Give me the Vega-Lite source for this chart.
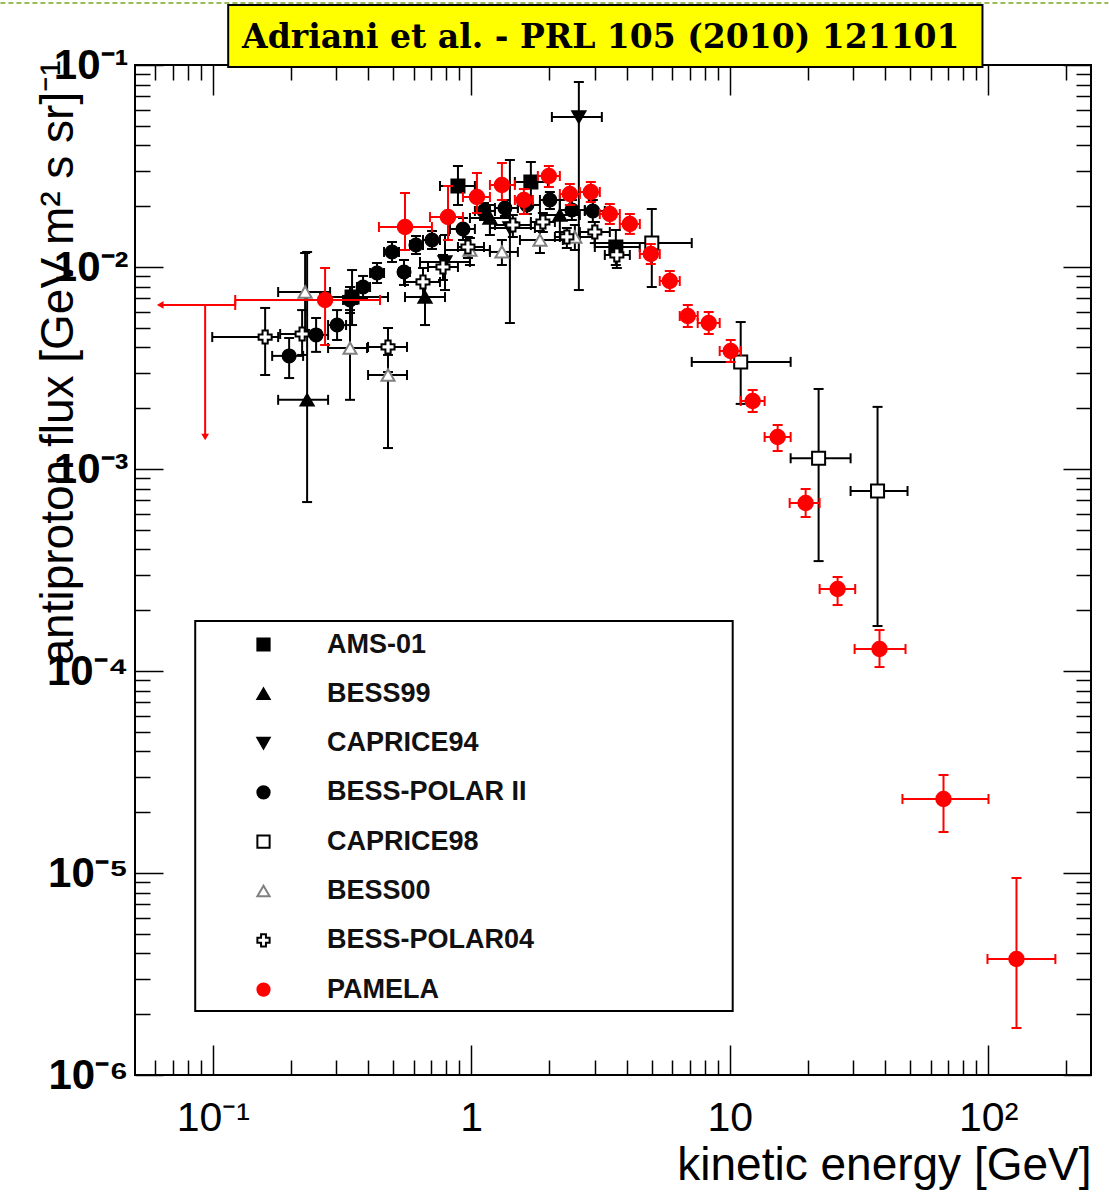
{
  "$schema": "https://vega.github.io/schema/vega-lite/v6.json",
  "width": 956,
  "height": 1010,
  "autosize": {"type": "none"},
  "padding": {"left": 135, "top": 65, "right": 18, "bottom": 117},
  "background": "white",
  "datasets": {
    "pts": [
      {"exp":"AMS-01","e":0.3458,"elo":0.2602,"ehi":0.4764,"f":0.0071,"flo":0.00516,"fhi":0.00966},
      {"exp":"AMS-01","e":0.8883,"elo":0.7568,"ehi":1.033,"f":0.02518,"flo":0.02027,"fhi":0.03162},
      {"exp":"AMS-01","e":1.701,"elo":1.475,"ehi":1.98,"f":0.02635,"flo":0.02027,"fhi":0.0331},
      {"exp":"AMS-01","e":3.626,"elo":3.007,"ehi":4.488,"f":0.01256,"flo":0.01023,"fhi":0.01525},
      {"exp":"BESS99","e":0.2317,"elo":0.179,"ehi":0.2793,"f":0.0022,"flo":0.000686,"fhi":0.01187},
      {"exp":"BESS99","e":0.6622,"elo":0.5543,"ehi":0.7913,"f":0.0071,"flo":0.00516,"fhi":0.00833},
      {"exp":"BESS99","e":1.181,"elo":0.9885,"ehi":1.411,"f":0.01748,"flo":0.0144,"fhi":0.02027},
      {"exp":"BESS99","e":2.202,"elo":1.844,"ehi":2.631,"f":0.01808,"flo":0.0149,"fhi":0.02146},
      {"exp":"CAPRICE94","e":2.608,"elo":2.051,"ehi":3.201,"f":0.05529,"flo":0.00769,"fhi":0.0824},
      {"exp":"CAPRICE94","e":1.411,"elo":1.181,"ehi":1.763,"f":0.0156,"flo":0.00528,"fhi":0.03386},
      {"exp":"CAPRICE94","e":0.7913,"elo":0.6333,"ehi":0.9885,"f":0.01059,"flo":0.00769,"fhi":0.0144},
      {"exp":"BESS-POLAR II","e":0.1974,"elo":0.1697,"ehi":0.2236,"f":0.00363,"flo":0.00282,"fhi":0.00445},
      {"exp":"BESS-POLAR II","e":0.251,"elo":0.2236,"ehi":0.2793,"f":0.00461,"flo":0.0038,"fhi":0.00559},
      {"exp":"BESS-POLAR II","e":0.3026,"elo":0.2793,"ehi":0.3278,"f":0.00516,"flo":0.00435,"fhi":0.00612},
      {"exp":"BESS-POLAR II","e":0.3396,"elo":0.3192,"ehi":0.3615,"f":0.00687,"flo":0.00592,"fhi":0.00796},
      {"exp":"BESS-POLAR II","e":0.3814,"elo":0.3615,"ehi":0.406,"f":0.00796,"flo":0.00702,"fhi":0.00903},
      {"exp":"BESS-POLAR II","e":0.432,"elo":0.406,"ehi":0.4598,"f":0.00934,"flo":0.00833,"fhi":0.01047},
      {"exp":"BESS-POLAR II","e":0.4937,"elo":0.4598,"ehi":0.5254,"f":0.01187,"flo":0.01059,"fhi":0.0133},
      {"exp":"BESS-POLAR II","e":0.5494,"elo":0.5254,"ehi":0.5794,"f":0.00945,"flo":0.00815,"fhi":0.01083},
      {"exp":"BESS-POLAR II","e":0.6111,"elo":0.5794,"ehi":0.6505,"f":0.01285,"flo":0.0116,"fhi":0.01424},
      {"exp":"BESS-POLAR II","e":0.7048,"elo":0.6505,"ehi":0.7568,"f":0.0136,"flo":0.01228,"fhi":0.01507},
      {"exp":"BESS-POLAR II","e":0.9288,"elo":0.8273,"ehi":1.033,"f":0.01542,"flo":0.0136,"fhi":0.01748},
      {"exp":"BESS-POLAR II","e":1.12,"elo":1.033,"ehi":1.235,"f":0.01893,"flo":0.01709,"fhi":0.02074},
      {"exp":"BESS-POLAR II","e":1.35,"elo":1.235,"ehi":1.515,"f":0.01959,"flo":0.01788,"fhi":0.02146},
      {"exp":"BESS-POLAR II","e":1.642,"elo":1.515,"ehi":1.844,"f":0.02027,"flo":0.0183,"fhi":0.02221},
      {"exp":"BESS-POLAR II","e":2.015,"elo":1.844,"ehi":2.202,"f":0.02146,"flo":0.01937,"fhi":0.02351},
      {"exp":"BESS-POLAR II","e":2.451,"elo":2.202,"ehi":2.751,"f":0.01915,"flo":0.01709,"fhi":0.02146},
      {"exp":"BESS-POLAR II","e":2.954,"elo":2.751,"ehi":3.287,"f":0.01893,"flo":0.0167,"fhi":0.02146},
      {"exp":"CAPRICE98","e":4.995,"elo":3.007,"ehi":7.131,"f":0.01314,"flo":0.00796,"fhi":0.01937},
      {"exp":"CAPRICE98","e":11.03,"elo":7.131,"ehi":17.21,"f":0.00339,"flo":0.0021,"fhi":0.00534},
      {"exp":"CAPRICE98","e":22.08,"elo":17.21,"ehi":29.36,"f":0.00113,"flo":0.00035,"fhi":0.00249},
      {"exp":"CAPRICE98","e":37.33,"elo":29.36,"ehi":48.76,"f":0.000778,"flo":0.000167,"fhi":0.00203},
      {"exp":"BESS00","e":0.2276,"elo":0.179,"ehi":0.2843,"f":0.00752,"flo":0.00488,"fhi":0.01173},
      {"exp":"BESS00","e":0.3396,"elo":0.2793,"ehi":0.3952,"f":0.00397,"flo":0.0022,"fhi":0.00612},
      {"exp":"BESS00","e":0.4764,"elo":0.3988,"ehi":0.5642,"f":0.00292,"flo":0.00127,"fhi":0.00367},
      {"exp":"BESS00","e":0.9885,"elo":0.7913,"ehi":1.181,"f":0.01214,"flo":0.01023,"fhi":0.01392},
      {"exp":"BESS00","e":1.314,"elo":1.181,"ehi":1.515,"f":0.01187,"flo":0.01023,"fhi":0.0136},
      {"exp":"BESS00","e":1.844,"elo":1.543,"ehi":2.262,"f":0.0136,"flo":0.01173,"fhi":0.01507},
      {"exp":"BESS00","e":2.517,"elo":2.202,"ehi":3.007,"f":0.01408,"flo":0.01214,"fhi":0.01614},
      {"exp":"BESS-POLAR04","e":0.1594,"elo":0.0995,"ehi":0.179,"f":0.0045,"flo":0.00292,"fhi":0.00627},
      {"exp":"BESS-POLAR04","e":0.2216,"elo":0.1822,"ehi":0.2602,"f":0.00466,"flo":0.00367,"fhi":0.00612},
      {"exp":"BESS-POLAR04","e":0.4764,"elo":0.3988,"ehi":0.5642,"f":0.00402,"flo":0.00302,"fhi":0.00499},
      {"exp":"BESS-POLAR04","e":0.6505,"elo":0.5543,"ehi":0.7568,"f":0.00843,"flo":0.0071,"fhi":0.00989},
      {"exp":"BESS-POLAR04","e":0.7773,"elo":0.6802,"ehi":0.8883,"f":0.01,"flo":0.00862,"fhi":0.01147},
      {"exp":"BESS-POLAR04","e":0.971,"elo":0.8883,"ehi":1.12,"f":0.01256,"flo":0.01108,"fhi":0.01408},
      {"exp":"BESS-POLAR04","e":1.449,"elo":1.235,"ehi":1.701,"f":0.01614,"flo":0.01408,"fhi":0.01808},
      {"exp":"BESS-POLAR04","e":1.893,"elo":1.701,"ehi":2.107,"f":0.0167,"flo":0.0149,"fhi":0.01851},
      {"exp":"BESS-POLAR04","e":2.344,"elo":2.107,"ehi":2.631,"f":0.01408,"flo":0.01242,"fhi":0.0156},
      {"exp":"BESS-POLAR04","e":3.007,"elo":2.631,"ehi":3.437,"f":0.0149,"flo":0.01314,"fhi":0.0167},
      {"exp":"BESS-POLAR04","e":3.659,"elo":3.287,"ehi":4.108,"f":0.01147,"flo":0.00989,"fhi":0.01285},
      {"exp":"PAMELA","e":0.2719,"elo":0.1221,"ehi":0.4437,"f":0.006866,"flo":0.004111,"fhi":0.009886},
      {"exp":"PAMELA","e":0.5543,"elo":0.4394,"ehi":0.7045,"f":0.01578,"flo":0.01214,"fhi":0.02324},
      {"exp":"PAMELA","e":0.8127,"elo":0.6922,"ehi":0.9288,"f":0.01768,"flo":0.0136,"fhi":0.02518},
      {"exp":"PAMELA","e":1.052,"elo":0.9288,"ehi":1.181,"f":0.02221,"flo":0.01851,"fhi":0.0292},
      {"exp":"PAMELA","e":1.314,"elo":1.181,"ehi":1.475,"f":0.02547,"flo":0.02146,"fhi":0.03272},
      {"exp":"PAMELA","e":1.598,"elo":1.475,"ehi":1.732,"f":0.02146,"flo":0.0183,"fhi":0.02432},
      {"exp":"PAMELA","e":1.997,"elo":1.81,"ehi":2.202,"f":0.02821,"flo":0.02489,"fhi":0.03162},
      {"exp":"PAMELA","e":2.407,"elo":2.202,"ehi":2.631,"f":0.02298,"flo":0.02027,"fhi":0.02576},
      {"exp":"PAMELA","e":2.902,"elo":2.631,"ehi":3.144,"f":0.02351,"flo":0.02098,"fhi":0.02635},
      {"exp":"PAMELA","e":3.437,"elo":3.144,"ehi":3.757,"f":0.0183,"flo":0.01633,"fhi":0.0205},
      {"exp":"PAMELA","e":4.108,"elo":3.757,"ehi":4.49,"f":0.01633,"flo":0.01458,"fhi":0.0183},
      {"exp":"PAMELA","e":4.952,"elo":4.49,"ehi":5.362,"f":0.0116,"flo":0.01035,"fhi":0.01299},
      {"exp":"PAMELA","e":5.864,"elo":5.362,"ehi":6.408,"f":0.008524,"flo":0.007606,"fhi":0.009555},
      {"exp":"PAMELA","e":6.882,"elo":6.408,"ehi":7.52,"f":0.005719,"flo":0.005047,"fhi":0.006485},
      {"exp":"PAMELA","e":8.296,"elo":7.52,"ehi":9.147,"f":0.005282,"flo":0.004659,"fhi":0.005987},
      {"exp":"PAMELA","e":10.09,"elo":9.147,"ehi":11.03,"f":0.003839,"flo":0.003386,"fhi":0.00435},
      {"exp":"PAMELA","e":12.27,"elo":11.03,"ehi":13.65,"f":0.002171,"flo":0.001915,"fhi":0.002461},
      {"exp":"PAMELA","e":15.33,"elo":13.65,"ehi":17.21,"f":0.00144,"flo":0.001228,"fhi":0.001651},
      {"exp":"PAMELA","e":19.67,"elo":17.06,"ehi":22.28,"f":0.0006787,"flo":0.0005787,"fhi":0.0007962},
      {"exp":"PAMELA","e":26.15,"elo":22.28,"ehi":30.59,"f":0.0002547,"flo":0.0002121,"fhi":0.000292},
      {"exp":"PAMELA","e":37.99,"elo":30.43,"ehi":47.89,"f":0.0001285,"flo":0.0001046,"fhi":0.0001595},
      {"exp":"PAMELA","e":67.18,"elo":46.6,"ehi":100.3,"f":0.00002324,"flo":0.00001596,"fhi":0.00003056},
      {"exp":"PAMELA","e":128.7,"elo":99.4,"ehi":182,"f":0.000003752,"flo":0.000001709,"fhi":0.000009445}
    ],
    "ul": [
      {"exp":"PAMELA","e":0.0934,"elo":0.0626,"ehi":0.1221,"f":0.006485,"flo":0.00144}
    ]
  },
  "layer": [
    {
      "data": {"values": [{"x1": 0.01507, "x2": 291.8, "y": 0.2027}]},
      "mark": {"type": "rule", "color": "#9BBB59", "strokeWidth": 2, "strokeDash": [5, 3]},
      "encoding": {
        "x": {"field": "x1", "type": "quantitative", "scale": {"type": "log", "domain": [0.05, 250], "nice": false}, "axis": null},
        "x2": {"field": "x2"},
        "y": {"field": "y", "type": "quantitative", "scale": {"type": "log", "domain": [0.000001, 0.1], "nice": false}, "axis": null}
      }
    },
    {
      "data": {"values": [{"x1": 0.1147, "x2": 95.06, "y1": 0.1981, "y2": 0.09775}]},
      "mark": {"type": "rect", "fill": "#FFFF00", "stroke": "black", "strokeWidth": 2},
      "encoding": {
        "x": {"field": "x1", "type": "quantitative", "scale": {"type": "log", "domain": [0.05, 250], "nice": false}, "axis": null},
        "x2": {"field": "x2"},
        "y": {"field": "y1", "type": "quantitative", "scale": {"type": "log", "domain": [0.000001, 0.1], "nice": false}, "axis": null},
        "y2": {"field": "y2"}
      }
    },
    {
      "data": {"values": [{"x": 3.172, "y": 0.1361, "t": "Adriani et al. - PRL 105 (2010) 121101"}]},
      "mark": {"type": "text", "font": "DejaVu Serif", "fontWeight": "bold", "fontSize": 33, "align": "center", "baseline": "middle", "color": "black"},
      "encoding": {
        "x": {"field": "x", "type": "quantitative", "scale": {"type": "log", "domain": [0.05, 250], "nice": false}, "axis": null},
        "y": {"field": "y", "type": "quantitative", "scale": {"type": "log", "domain": [0.000001, 0.1], "nice": false}, "axis": null},
        "text": {"field": "t"}
      }
    },
    {
      "data": {"values": [{"x1": 0.0855, "x2": 10.27, "y1": 0.0001768, "y2": 0.000002074}]},
      "mark": {"type": "rect", "fill": "white", "stroke": "black", "strokeWidth": 2},
      "encoding": {
        "x": {"field": "x1", "type": "quantitative", "scale": {"type": "log", "domain": [0.05, 250], "nice": false}, "axis": null},
        "x2": {"field": "x2"},
        "y": {"field": "y1", "type": "quantitative", "scale": {"type": "log", "domain": [0.000001, 0.1], "nice": false}, "axis": null},
        "y2": {"field": "y2"}
      }
    },
    {
      "data": {"name": "pts"},
      "transform": [{"filter": "datum.exp !== 'PAMELA'"}],
      "mark": {"type": "rule", "color": "black", "strokeWidth": 2},
      "encoding": {
        "x": {"field": "elo", "type": "quantitative", "scale": {"type": "log", "domain": [0.05, 250], "nice": false},
          "axis": {
            "orient": "bottom",
            "values": [0.06,0.07,0.08,0.09,0.1,0.2,0.3,0.4,0.5,0.6,0.7,0.8,0.9,1,2,3,4,5,6,7,8,9,10,20,30,40,50,60,70,80,90,100,200],
            "labelExpr": "abs(log(datum.value)/LN10 - round(log(datum.value)/LN10)) < 0.01 ? ['10⁻¹','1','10','10²'][round(log(datum.value)/LN10)+1] : ''",
            "tickSize": {"condition": {"test": "abs(log(datum.value)/LN10 - round(log(datum.value)/LN10)) < 0.01", "value": -30}, "value": -15},
            "tickColor": "black", "tickWidth": 1.5, "domain": false, "grid": false,
            "labelFont": "Liberation Sans", "labelFontSize": 41, "labelColor": "black", "labelPadding": 53,
            "labelOverlap": false, "labelFlush": false, "labelBound": false,
            "title": "kinetic energy [GeV]", "titleFont": "Liberation Sans", "titleFontSize": 46, "titleFontWeight": "normal",
            "titleColor": "black", "titleX": 956, "titleY": 104, "titleAlign": "right", "titleBaseline": "alphabetic", "titleAnchor": "end"
          }
        },
        "x2": {"field": "ehi"},
        "y": {"field": "f", "type": "quantitative", "scale": {"type": "log", "domain": [0.000001, 0.1], "nice": false},
          "axis": {
            "orient": "left",
            "values": [1e-6,2e-6,3e-6,4e-6,5e-6,6e-6,7e-6,8e-6,9e-6,1e-5,2e-5,3e-5,4e-5,5e-5,6e-5,7e-5,8e-5,9e-5,1e-4,2e-4,3e-4,4e-4,5e-4,6e-4,7e-4,8e-4,9e-4,0.001,0.002,0.003,0.004,0.005,0.006,0.007,0.008,0.009,0.01,0.02,0.03,0.04,0.05,0.06,0.07,0.08,0.09,0.1],
            "labelExpr": "abs(log(datum.value)/LN10 - round(log(datum.value)/LN10)) < 0.01 ? '10' + ['⁻⁶','⁻⁵','⁻⁴','⁻³','⁻²','⁻¹'][round(log(datum.value)/LN10)+6] : ''",
            "tickSize": {"condition": {"test": "abs(log(datum.value)/LN10 - round(log(datum.value)/LN10)) < 0.01", "value": -28}, "value": -15},
            "tickColor": "black", "tickWidth": 1.5, "domain": false, "grid": false,
            "labelFont": "Liberation Sans", "labelFontSize": 42, "labelFontWeight": "bold", "labelColor": "black", "labelPadding": 35,
            "labelOverlap": false, "labelFlush": false, "labelBound": false,
            "title": "antiproton flux [GeV m² s sr]⁻¹", "titleFont": "Liberation Sans", "titleFontSize": 46, "titleFontWeight": "normal",
            "titleColor": "black", "titleX": -77, "titleY": -5, "titleAngle": -90, "titleAlign": "right", "titleBaseline": "middle"
          }
        }
      }
    },
    {
      "data": {"name": "pts"},
      "transform": [{"filter": "datum.exp !== 'PAMELA'"}],
      "mark": {"type": "rule", "color": "black", "strokeWidth": 2},
      "encoding": {
        "x": {"field": "e", "type": "quantitative", "scale": {"type": "log", "domain": [0.05, 250], "nice": false},
          "axis": {
            "orient": "top",
            "values": [0.06,0.07,0.08,0.09,0.1,0.2,0.3,0.4,0.5,0.6,0.7,0.8,0.9,1,2,3,4,5,6,7,8,9,10,20,30,40,50,60,70,80,90,100,200],
            "labels": false, "title": null,
            "tickSize": {"condition": {"test": "abs(log(datum.value)/LN10 - round(log(datum.value)/LN10)) < 0.01", "value": -30}, "value": -15},
            "tickColor": "black", "tickWidth": 1.5, "domain": false, "grid": false
          }
        },
        "y": {"field": "flo", "type": "quantitative", "scale": {"type": "log", "domain": [0.000001, 0.1], "nice": false},
          "axis": {
            "orient": "right",
            "values": [1e-6,2e-6,3e-6,4e-6,5e-6,6e-6,7e-6,8e-6,9e-6,1e-5,2e-5,3e-5,4e-5,5e-5,6e-5,7e-5,8e-5,9e-5,1e-4,2e-4,3e-4,4e-4,5e-4,6e-4,7e-4,8e-4,9e-4,0.001,0.002,0.003,0.004,0.005,0.006,0.007,0.008,0.009,0.01,0.02,0.03,0.04,0.05,0.06,0.07,0.08,0.09,0.1],
            "labels": false, "title": null,
            "tickSize": {"condition": {"test": "abs(log(datum.value)/LN10 - round(log(datum.value)/LN10)) < 0.01", "value": -28}, "value": -15},
            "tickColor": "black", "tickWidth": 1.5, "domain": false, "grid": false
          }
        },
        "y2": {"field": "fhi"}
      }
    },
    {
      "data": {"name": "pts"},
      "transform": [{"filter": "datum.exp !== 'PAMELA'"}],
      "mark": {"type": "point", "shape": "stroke", "size": 100, "angle": 90, "color": "black", "strokeWidth": 2, "filled": false, "opacity": 1},
      "encoding": {
        "x": {"field": "elo", "type": "quantitative", "scale": {"type": "log", "domain": [0.05, 250], "nice": false}, "axis": null},
        "y": {"field": "f", "type": "quantitative", "scale": {"type": "log", "domain": [0.000001, 0.1], "nice": false}, "axis": null}
      }
    },
    {
      "data": {"name": "pts"},
      "transform": [{"filter": "datum.exp !== 'PAMELA'"}],
      "mark": {"type": "point", "shape": "stroke", "size": 100, "angle": 90, "color": "black", "strokeWidth": 2, "filled": false, "opacity": 1},
      "encoding": {
        "x": {"field": "ehi", "type": "quantitative", "scale": {"type": "log", "domain": [0.05, 250], "nice": false}, "axis": null},
        "y": {"field": "f", "type": "quantitative", "scale": {"type": "log", "domain": [0.000001, 0.1], "nice": false}, "axis": null}
      }
    },
    {
      "data": {"name": "pts"},
      "transform": [{"filter": "datum.exp !== 'PAMELA'"}],
      "mark": {"type": "point", "shape": "stroke", "size": 100, "color": "black", "strokeWidth": 2, "filled": false, "opacity": 1},
      "encoding": {
        "x": {"field": "e", "type": "quantitative", "scale": {"type": "log", "domain": [0.05, 250], "nice": false}, "axis": null},
        "y": {"field": "flo", "type": "quantitative", "scale": {"type": "log", "domain": [0.000001, 0.1], "nice": false}, "axis": null}
      }
    },
    {
      "data": {"name": "pts"},
      "transform": [{"filter": "datum.exp !== 'PAMELA'"}],
      "mark": {"type": "point", "shape": "stroke", "size": 100, "color": "black", "strokeWidth": 2, "filled": false, "opacity": 1},
      "encoding": {
        "x": {"field": "e", "type": "quantitative", "scale": {"type": "log", "domain": [0.05, 250], "nice": false}, "axis": null},
        "y": {"field": "fhi", "type": "quantitative", "scale": {"type": "log", "domain": [0.000001, 0.1], "nice": false}, "axis": null}
      }
    },
    {
      "data": {"name": "pts"},
      "transform": [{"filter": "datum.exp !== 'PAMELA'"}],
      "mark": {"type": "point", "size": 170, "strokeWidth": 2, "opacity": 1, "filled": true},
      "encoding": {
        "x": {"field": "e", "type": "quantitative", "scale": {"type": "log", "domain": [0.05, 250], "nice": false}, "axis": null},
        "y": {"field": "f", "type": "quantitative", "scale": {"type": "log", "domain": [0.000001, 0.1], "nice": false}, "axis": null},
        "shape": {"field": "exp", "type": "nominal",
          "scale": {"domain": ["AMS-01","BESS99","CAPRICE94","BESS-POLAR II","CAPRICE98","BESS00","BESS-POLAR04","PAMELA"],
                    "range": ["square","triangle-up","triangle-down","circle","square","triangle-up","cross","circle"]},
          "legend": {"orient": "none", "legendX": 115, "legendY": 566, "title": null}},
        "fill": {"field": "exp", "type": "nominal",
          "scale": {"domain": ["AMS-01","BESS99","CAPRICE94","BESS-POLAR II","CAPRICE98","BESS00","BESS-POLAR04","PAMELA"],
                    "range": ["black","black","black","black","white","white","white","red"]},
          "legend": {"orient": "none", "legendX": 115, "legendY": 566, "title": null}},
        "stroke": {"field": "exp", "type": "nominal",
          "scale": {"domain": ["AMS-01","BESS99","CAPRICE94","BESS-POLAR II","CAPRICE98","BESS00","BESS-POLAR04","PAMELA"],
                    "range": ["black","black","black","black","black","#808080","black","red"]},
          "legend": {"orient": "none", "legendX": 115, "legendY": 566, "title": null}}
      }
    },
    {
      "data": {"name": "pts"},
      "transform": [{"filter": "datum.exp === 'PAMELA'"}],
      "mark": {"type": "rule", "color": "red", "strokeWidth": 2},
      "encoding": {
        "x": {"field": "elo", "type": "quantitative", "scale": {"type": "log", "domain": [0.05, 250], "nice": false}, "axis": null},
        "x2": {"field": "ehi"},
        "y": {"field": "f", "type": "quantitative", "scale": {"type": "log", "domain": [0.000001, 0.1], "nice": false}, "axis": null}
      }
    },
    {
      "data": {"name": "pts"},
      "transform": [{"filter": "datum.exp === 'PAMELA'"}],
      "mark": {"type": "rule", "color": "red", "strokeWidth": 2},
      "encoding": {
        "x": {"field": "e", "type": "quantitative", "scale": {"type": "log", "domain": [0.05, 250], "nice": false}, "axis": null},
        "y": {"field": "flo", "type": "quantitative", "scale": {"type": "log", "domain": [0.000001, 0.1], "nice": false}, "axis": null},
        "y2": {"field": "fhi"}
      }
    },
    {
      "data": {"name": "pts"},
      "transform": [{"filter": "datum.exp === 'PAMELA'"}],
      "mark": {"type": "point", "shape": "stroke", "size": 100, "angle": 90, "color": "red", "strokeWidth": 2, "filled": false, "opacity": 1},
      "encoding": {
        "x": {"field": "elo", "type": "quantitative", "scale": {"type": "log", "domain": [0.05, 250], "nice": false}, "axis": null},
        "y": {"field": "f", "type": "quantitative", "scale": {"type": "log", "domain": [0.000001, 0.1], "nice": false}, "axis": null}
      }
    },
    {
      "data": {"name": "pts"},
      "transform": [{"filter": "datum.exp === 'PAMELA'"}],
      "mark": {"type": "point", "shape": "stroke", "size": 100, "angle": 90, "color": "red", "strokeWidth": 2, "filled": false, "opacity": 1},
      "encoding": {
        "x": {"field": "ehi", "type": "quantitative", "scale": {"type": "log", "domain": [0.05, 250], "nice": false}, "axis": null},
        "y": {"field": "f", "type": "quantitative", "scale": {"type": "log", "domain": [0.000001, 0.1], "nice": false}, "axis": null}
      }
    },
    {
      "data": {"name": "pts"},
      "transform": [{"filter": "datum.exp === 'PAMELA'"}],
      "mark": {"type": "point", "shape": "stroke", "size": 100, "color": "red", "strokeWidth": 2, "filled": false, "opacity": 1},
      "encoding": {
        "x": {"field": "e", "type": "quantitative", "scale": {"type": "log", "domain": [0.05, 250], "nice": false}, "axis": null},
        "y": {"field": "flo", "type": "quantitative", "scale": {"type": "log", "domain": [0.000001, 0.1], "nice": false}, "axis": null}
      }
    },
    {
      "data": {"name": "pts"},
      "transform": [{"filter": "datum.exp === 'PAMELA'"}],
      "mark": {"type": "point", "shape": "stroke", "size": 100, "color": "red", "strokeWidth": 2, "filled": false, "opacity": 1},
      "encoding": {
        "x": {"field": "e", "type": "quantitative", "scale": {"type": "log", "domain": [0.05, 250], "nice": false}, "axis": null},
        "y": {"field": "fhi", "type": "quantitative", "scale": {"type": "log", "domain": [0.000001, 0.1], "nice": false}, "axis": null}
      }
    },
    {
      "data": {"name": "pts"},
      "transform": [{"filter": "datum.exp === 'PAMELA'"}],
      "mark": {"type": "point", "size": 210, "strokeWidth": 2, "opacity": 1, "filled": true},
      "encoding": {
        "x": {"field": "e", "type": "quantitative", "scale": {"type": "log", "domain": [0.05, 250], "nice": false}, "axis": null},
        "y": {"field": "f", "type": "quantitative", "scale": {"type": "log", "domain": [0.000001, 0.1], "nice": false}, "axis": null},
        "shape": {"field": "exp", "type": "nominal",
          "scale": {"domain": ["AMS-01","BESS99","CAPRICE94","BESS-POLAR II","CAPRICE98","BESS00","BESS-POLAR04","PAMELA"],
                    "range": ["square","triangle-up","triangle-down","circle","square","triangle-up","cross","circle"]},
          "legend": {"orient": "none", "legendX": 115, "legendY": 566, "title": null}},
        "fill": {"field": "exp", "type": "nominal",
          "scale": {"domain": ["AMS-01","BESS99","CAPRICE94","BESS-POLAR II","CAPRICE98","BESS00","BESS-POLAR04","PAMELA"],
                    "range": ["black","black","black","black","white","white","white","red"]},
          "legend": {"orient": "none", "legendX": 115, "legendY": 566, "title": null}},
        "stroke": {"field": "exp", "type": "nominal",
          "scale": {"domain": ["AMS-01","BESS99","CAPRICE94","BESS-POLAR II","CAPRICE98","BESS00","BESS-POLAR04","PAMELA"],
                    "range": ["black","black","black","black","black","#808080","black","red"]},
          "legend": {"orient": "none", "legendX": 115, "legendY": 566, "title": null}}
      }
    },
    {
      "data": {"name": "ul"},
      "mark": {"type": "rule", "color": "red", "strokeWidth": 2},
      "encoding": {
        "x": {"field": "elo", "type": "quantitative", "scale": {"type": "log", "domain": [0.05, 250], "nice": false}, "axis": null},
        "x2": {"field": "ehi"},
        "y": {"field": "f", "type": "quantitative", "scale": {"type": "log", "domain": [0.000001, 0.1], "nice": false}, "axis": null}
      }
    },
    {
      "data": {"name": "ul"},
      "mark": {"type": "rule", "color": "red", "strokeWidth": 2},
      "encoding": {
        "x": {"field": "e", "type": "quantitative", "scale": {"type": "log", "domain": [0.05, 250], "nice": false}, "axis": null},
        "y": {"field": "f", "type": "quantitative", "scale": {"type": "log", "domain": [0.000001, 0.1], "nice": false}, "axis": null},
        "y2": {"field": "flo"}
      }
    },
    {
      "data": {"name": "ul"},
      "mark": {"type": "point", "shape": "triangle-left", "size": 60, "color": "red", "filled": true, "opacity": 1},
      "encoding": {
        "x": {"field": "elo", "type": "quantitative", "scale": {"type": "log", "domain": [0.05, 250], "nice": false}, "axis": null},
        "y": {"field": "f", "type": "quantitative", "scale": {"type": "log", "domain": [0.000001, 0.1], "nice": false}, "axis": null}
      }
    },
    {
      "data": {"name": "ul"},
      "mark": {"type": "point", "shape": "triangle-down", "size": 60, "color": "red", "filled": true, "opacity": 1},
      "encoding": {
        "x": {"field": "e", "type": "quantitative", "scale": {"type": "log", "domain": [0.05, 250], "nice": false}, "axis": null},
        "y": {"field": "flo", "type": "quantitative", "scale": {"type": "log", "domain": [0.000001, 0.1], "nice": false}, "axis": null}
      }
    },
    {
      "data": {"name": "ul"},
      "mark": {"type": "point", "shape": "stroke", "size": 100, "angle": 90, "color": "red", "strokeWidth": 2, "filled": false, "opacity": 1},
      "encoding": {
        "x": {"field": "ehi", "type": "quantitative", "scale": {"type": "log", "domain": [0.05, 250], "nice": false}, "axis": null},
        "y": {"field": "f", "type": "quantitative", "scale": {"type": "log", "domain": [0.000001, 0.1], "nice": false}, "axis": null}
      }
    }
  ],
  "resolve": {"axis": {"x": "independent", "y": "independent"}},
  "config": {
    "view": {"stroke": "black", "strokeWidth": 2},
    "legend": {
      "labelFont": "Liberation Sans", "labelFontSize": 27, "labelFontWeight": "bold", "labelColor": "#111111",
      "symbolSize": 150, "symbolStrokeWidth": 2, "rowPadding": 21.3, "labelOffset": 50, "padding": 0, "labelLimit": 400
    }
  }
}
